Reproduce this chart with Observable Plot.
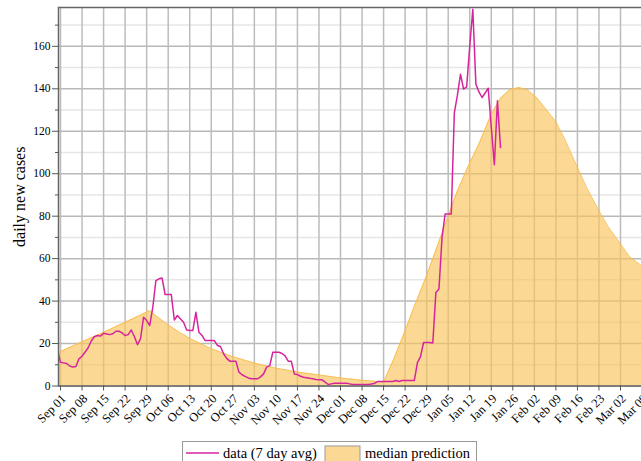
<!DOCTYPE html>
<html><head><meta charset="utf-8">
<script src="https://cdn.jsdelivr.net/npm/d3@7"></script>
<script src="https://cdn.jsdelivr.net/npm/@observablehq/plot@0.6"></script>
<style>
body{margin:0;background:#fff;}
#wrap{position:relative;width:641px;height:461px;overflow:hidden;font-family:"Liberation Serif","Times New Roman",serif;}
#chart{width:680px;}
#chart svg{display:block;max-width:none !important;}
#chart svg text{font-family:"Liberation Serif","Times New Roman",serif;}
#legend{position:absolute;left:182px;top:441px;}
</style>
</head><body>
<div id="wrap"><div id="chart"></div><svg id="legend" width="300" height="24"></svg></div>
<script>
// Observed 7-day average (daily, first value = 2021-08-31)
const caseStart = "2021-08-31";
const caseValues = [17, 11.2, 10.9, 10.6, 9.4, 8.9, 9.2, 12.8, 14.0, 16.0, 18.0, 21.2, 23.2, 23.8, 23.5, 24.8, 24.5, 24.2, 24.6, 25.8,
  25.8, 25.0, 23.8, 24.2, 26.4, 23.3, 19.5, 22.2, 32.4, 30.8, 28.5, 37.1, 49.6, 50.5, 50.9, 43.1, 43.1, 43.1, 31.1, 33.2,
  31.6, 30.0, 26.4, 26.1, 26.1, 34.7, 25.3, 23.8, 21.4, 21.4, 21.4, 21.4, 19.1, 18.6, 15.2, 13.0, 11.7, 11.7, 11.7, 6.5,
  5.3, 4.5, 3.8, 3.4, 3.4, 3.4, 4.3, 5.7, 8.9, 9.6, 15.9, 15.9, 15.9, 15.3, 14.2, 11.7, 11.7, 5.7, 5.4, 4.6,
  4.1, 3.9, 3.6, 3.4, 3.1, 2.9, 2.9, 1.8, 0.7, 1.0, 1.3, 1.3, 1.3, 1.3, 1.3, 1.0, 0.7, 0.7, 0.7, 0.7,
  0.7, 0.7, 0.9, 1.2, 2.1, 2.1, 2.1, 2.1, 2.1, 2.1, 2.6, 2.1, 2.6, 2.6, 2.6, 2.6, 2.6, 11.0, 13.8, 20.5,
  20.5, 20.5, 20.3, 44.1, 45.7, 70, 81, 81, 81, 128.8, 137, 146.9, 139.9, 140.9, 160, 177.5, 142.2, 138.5, 135.9, 138,
  140.3, 122, 104.2, 134.4, 112.4];
// Median prediction: days after 2021-09-01 and values
const predStart = "2021-09-01";
const predDays = [-1, 0, 7, 14, 21, 29, 32, 35, 39, 42, 49, 56, 63, 70, 77, 84, 91, 98, 105, 108, 112, 115, 119, 122, 126, 129, 133, 136, 140, 143, 146, 149, 152, 155, 158, 161, 164, 168, 171, 175, 178, 182, 185, 189, 195];
const predValues = [15.3, 16.2, 20.8, 25.3, 30.0, 35.5, 32.0, 28.8, 25.0, 22.4, 17.6, 13.8, 10.8, 8.4, 6.6, 5.2, 3.8, 2.7, 1.9, 11.5, 26, 37.5, 52, 64, 80, 92, 105, 114, 128, 135.5, 139.6, 140.6, 139.3, 135.5, 130, 124.5, 116, 103, 93.5, 82.6, 75, 66.9, 60.8, 56.5, 49];
// Axis ticks
const xTickDates = ["2021-09-01","2021-09-08","2021-09-15","2021-09-22","2021-09-29","2021-10-06","2021-10-13","2021-10-20","2021-10-27",
  "2021-11-03","2021-11-10","2021-11-17","2021-11-24","2021-12-01","2021-12-08","2021-12-15","2021-12-22","2021-12-29",
  "2022-01-05","2022-01-12","2022-01-19","2022-01-26","2022-02-02","2022-02-09","2022-02-16","2022-02-23","2022-03-02","2022-03-09"];
const yMajorTicks = [0, 20, 40, 60, 80, 100, 120, 140, 160];
const yMinorTicks = [10, 30, 50, 70, 90, 110, 130, 150, 170];
const yLabel = "daily new cases";
const legendLabels = ["data (7 day avg)", "median prediction"];

const lineColor = "#d6259c";
const areaColor = "#fbc35c";
const font = "'Liberation Serif', 'Times New Roman', serif";

const cases = caseValues.map((v, i) => ({date: d3.utcDay.offset(new Date(caseStart), i), value: v}));
const pred = predDays.map((d, i) => ({date: d3.utcDay.offset(new Date(predStart), d), value: predValues[i]}));
const ticks = xTickDates.map(s => new Date(s));
const fmt = d3.utcFormat("%b %d");

const chart = Plot.plot({
  width: 680, height: 438,
  marginLeft: 58, marginRight: 20, marginTop: 7, marginBottom: 52.5,
  style: {fontFamily: font, color: "#000", background: "#fff", overflow: "visible", maxWidth: "none"},
  x: {type: "utc", domain: [new Date("2021-08-31T08:24:00Z"), new Date("2022-03-15T00:00:00Z")]},
  y: {domain: [0, 178.3]},
  marks: [
    Plot.gridY(yMinorTicks, {stroke: "#e6e6e6", strokeOpacity: 1, strokeWidth: 1.5}),
    Plot.gridY(yMajorTicks, {stroke: "#b8b8b8", strokeOpacity: 1, strokeWidth: 1.5}),
    Plot.gridX(ticks, {stroke: "#bcbcbc", strokeOpacity: 1, strokeWidth: 1.5}),
    Plot.areaY(pred, {x: "date", y: "value", fill: areaColor, fillOpacity: 0.65, clip: true}),
    Plot.line(pred, {x: "date", y: "value", stroke: "#f9b945", strokeWidth: 1, strokeOpacity: 0.8, clip: true}),
    Plot.line(cases, {x: "date", y: "value", stroke: lineColor, strokeWidth: 1.5, clip: true}),
    Plot.frame({stroke: "#666", strokeWidth: 1.5}),
    Plot.axisY(yMinorTicks, {tickSize: 3, tickFormat: () => "", stroke: "#555", label: null}),
    Plot.axisY(yMajorTicks, {tickSize: 6, tickPadding: 2, stroke: "#555", fill: "#000", fontSize: 11.5, fontFamily: font, label: null}),
    Plot.axisX(ticks, {tickSize: 5, tickFormat: () => "", stroke: "#555", label: null}),
    Plot.text(ticks, {x: d => d, text: d => fmt(d), frameAnchor: "bottom", rotate: -45, textAnchor: "end", lineAnchor: "middle", dx: 3.3, dy: 10.5, fontSize: 12.5, fontFamily: font, fill: "#000"}),
    Plot.text([yLabel], {text: d => d, frameAnchor: "left", rotate: -90, dx: -39, textAnchor: "middle", lineAnchor: "middle", fontSize: 16, fontFamily: font, fill: "#000"})
  ]
});
chart.style.maxWidth = "none";
chart.style.width = "680px";
chart.style.height = "438px";
document.getElementById("chart").appendChild(chart);

// Legend
const lg = d3.select("#legend");
lg.append("rect").attr("x", 0.5).attr("y", 0.5).attr("width", 294).attr("height", 30).attr("fill", "#fff").attr("stroke", "#999");
lg.append("line").attr("x1", 4).attr("x2", 37).attr("y1", 12).attr("y2", 12).attr("stroke", lineColor).attr("stroke-width", 1.5);
lg.append("text").attr("x", 41).attr("y", 16.5).attr("font-size", 14.5).attr("font-family", font).text(legendLabels[0]);
lg.append("rect").attr("x", 143).attr("y", 5).attr("width", 35).attr("height", 25).attr("fill", areaColor).attr("fill-opacity", 0.65).attr("stroke", "#999");
lg.append("text").attr("x", 183).attr("y", 16.5).attr("font-size", 14.5).attr("font-family", font).text(legendLabels[1]);
</script>
</body></html>
